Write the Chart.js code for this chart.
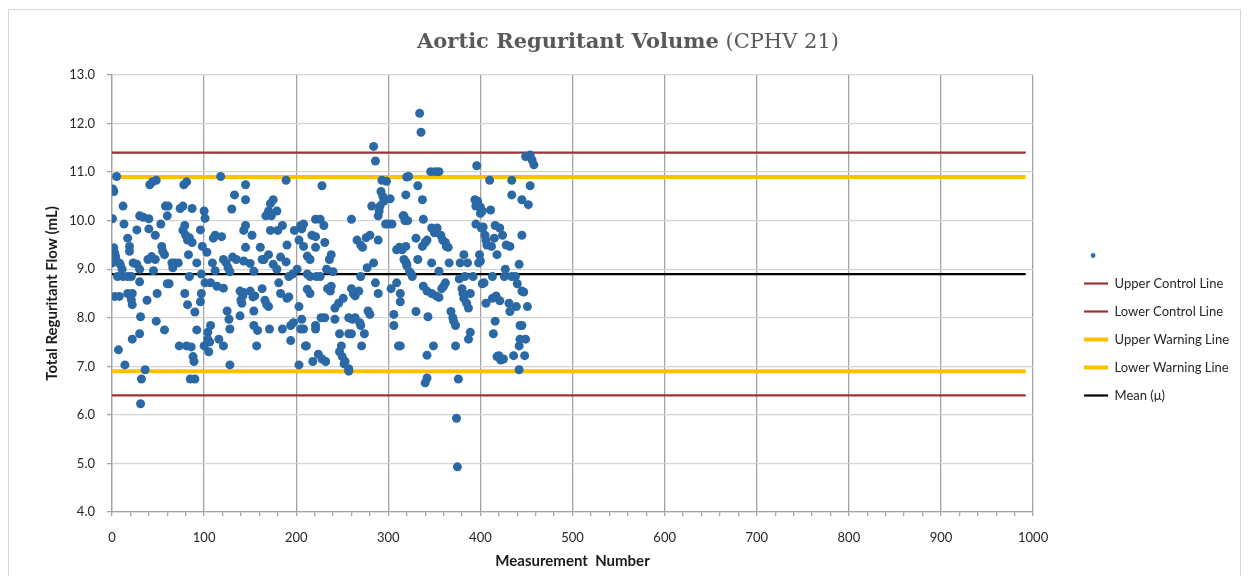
<!DOCTYPE html>
<html>
<head>
<meta charset="utf-8">
<script src="https://cdn.jsdelivr.net/npm/chart.js@4.4.1/dist/chart.umd.min.js"></script>
<style>
  body { margin: 0; background: #fff; }
  #wrap { position: relative; width: 1248px; height: 576px; overflow: hidden; }
  #frame { position: absolute; left: 8px; top: 9px; width: 1231px; height: 600px; border: 1px solid #d6d6d6; }
  #title { position: absolute; left: 0; top: 28px; width: 1256px; text-align: center;
           font-family: "DejaVu Serif", serif; font-size: 21px; line-height: 26px; color: #595959; }
  canvas { position: absolute; left: 0; top: 0; }
</style>
</head>
<body>
<div id="wrap">
  <div id="frame"></div>
  <canvas id="chart" width="1248" height="576"></canvas>
  <div id="title"><b>Aortic Reguritant Volume</b> (CPHV 21)</div>
</div>
<script>
const run1 = [
  [0.5,10.04],[0.3,9.13],[1,10.65],[2,10.6],[2,9.44],[3,9.33],[3,8.44],[4,9.26],[5,10.91],[6,8.85],
  [7,7.34],[8,9.13],[8,8.44],[9,9.1],[11,9.0],[12,10.3],[12,8.85],[13,9.93],[14,7.03],[17,9.64],
  [17,8.85],[17,8.5],[19,9.47],[19,9.37],[20,8.47],[21,8.85],[21,8.37],[22,8.5],[22,8.27],[22,7.56],
  [23,9.13],[27,9.81],[27,9.1],[30,10.1],[30,9.0],[30,8.74],[30,7.67],[31,8.02],[31,6.23],[32,6.74],
  [34,10.07],[36,6.93],[38,8.36],[40,10.04],[40,9.83],[39,9.2],[41,10.74],[43,9.26],[44,10.8],[45,8.97],
  [47,9.7],[47,9.2],[48,10.83],[48,7.93],[49,8.5],[53,9.93],[54,9.47],[55,9.37],[57,9.3],[57,7.75],
  [58,10.3],[60,10.1],[60,8.7],[61,10.3],[62,8.7],[65,9.13],[66,9.03],[68,9.13],[72,9.13],[73,7.42],
  [74,10.25],[77,10.3],[77,9.8],[78,10.74],[79,9.9],[79,8.5],[80,9.7],[81,10.8],[81,7.42],[82,9.6],
  [82,8.27],[83,9.3],[84,9.65],[84,8.85],[85,6.74],[86,7.4],[87,10.25],[87,9.55],[88,7.2],[89,7.1],
  [90,6.74],[90,8.12],[92,9.13],[92,7.75],[96,9.81],[96,8.33],[97,8.9],[97,8.5],[98,9.47],[100,7.42]
];
const run2 = [
  [100,10.2],[101,10.05],[101,8.72],[103,9.35],[104,7.7],[104,7.56],[105,7.3],[106,7.5],[107,8.72],[107,7.84],
  [109,9.13],[110,9.64],[112,9.7],[112,8.97],[114,8.65],[116,7.56],[118,10.91],[119,9.67],[121,9.2],[121,8.61],
  [121,7.42],[124,9.13],[125,8.14],[126,9.03],[127,7.97],[128,8.95],[128,7.77],[128,7.03],[130,10.24],[131,9.25],
  [133,10.53],[135,9.2],[139,8.55],[139,8.04],[140,8.36],[141,8.3],[142,8.45],[143,9.8],[143,9.17],[143,8.52],
  [145,10.74],[145,10.43],[145,9.9],[145,9.45],[150,9.12],[150,8.55],[152,9.7],[153,8.43],[154,8.96],[154,8.14],
  [154,7.84],[155,8.45],[157,7.42],[158,7.74],[161,9.45],[163,9.2],[163,8.6],[165,9.2],[166,8.36],[167,10.1],
  [168,8.27],[170,10.2],[170,9.3],[170,8.23],[171,7.77],[172,9.8],[172,10.35],[173,10.1],[175,10.43],[175,9.1],
  [179,10.2],[179,9.0],[180,9.8],[181,8.72],[183,9.25],[183,8.5],[185,9.9],[185,7.77],[189,10.83],[189,9.15],
  [190,9.5],[190,8.4],[192,8.85],[192,8.43],[194,7.84],[194,7.53],[196,8.9],[197,7.9],[198,9.8],[201,9.0],
  [203,9.6],[203,8.23],[203,7.03],[205,9.9],[205,7.77]
];
const run3 = [
  [206,9.83],[206,7.97],[208,9.93],[208,9.47],[208,7.77],[210,7.42],[211,7.42],[212,9.27],[212,8.9],[212,8.59],
  [215,9.2],[215,8.85],[215,8.5],[217,9.7],[218,7.1],[221,10.03],[221,9.67],[221,9.45],[221,7.84],[221,7.77],
  [222,8.85],[224,7.25],[226,10.03],[226,8.85],[227,8.0],[228,10.72],[228,7.15],[230,9.9],[231,9.55],[231,8.0],
  [232,7.1],[233,9.0],[234,8.6],[236,9.2],[237,8.55],[238,9.3],[238,8.65],[240,8.95],[242,8.2],[242,7.97],
  [246,8.3],[247,7.3],[247,7.67],[249,7.42],[250,7.2],[251,8.4],[252,7.05],[253,7.1],[257,8.0],[257,6.95],
  [257,6.9],[257,7.67],[260,10.03],[260,8.6],[260,7.67],[261,7.97],[262,8.5],[264,8.0],[264,8.45],[266,9.6],
  [268,8.55],[269,7.9],[270,9.5],[270,8.85],[270,7.84],[271,7.42],[272,9.45],[274,7.67],[276,9.65],[277,9.03],
  [278,8.14],[280,9.7],[280,8.07],[282,10.3],[284,11.53],[284,9.13],[286,11.23],[286,8.72],[289,9.6],[289,10.1],
  [289,8.5],[290,10.2],[291,10.3],[292,10.6],[293,10.83],[294,10.5],[295,10.4],[297,9.93],[298,10.81],[300,9.93],
  [302,10.45],[303,8.6],[304,9.93],[306,8.07],[306,7.84],[309,9.4],[309,8.72],[311,7.42],[312,9.45],[313,8.5],
  [313,8.33],[313,7.42],[315,9.4],[317,10.1],[317,9.2],[319,10.53],[320,10.9],[320,9.1]
];
const run4 = [
  [316,10.1],[318,10.0],[319,9.47],[319,9.15],[320,9.07],[321,10.0],[322,10.91],[323,8.95],[325,8.9],[326,8.85],
  [330,9.64],[330,8.13],[332,10.72],[332,9.2],[334,12.21],[335.5,11.82],[337,10.43],[337,9.47],[338,10.03],[338,8.65],
  [340,9.55],[340,6.66],[342,9.6],[342,8.55],[342,7.23],[342,6.76],[343,8.02],[346,11.01],[347,9.85],[347,9.13],
  [347,8.5],[349,7.42],[350,9.75],[351,11.01],[352,8.45],[353,9.85],[355,11.01],[355,8.96],[355,8.42],[357,9.7],
  [358,8.6],[359,9.6],[360,8.65],[362,9.55],[362,8.72],[363,9.47],[365,9.45],[366,9.13],[368,8.13],[370,8.0],
  [371,7.93],[373,7.84],[373,7.42],[374,5.93],[375,4.93],[376,6.74],[377,8.8],[378,9.13],[380,8.6],[381,8.5],
  [382,9.3],[382,8.4],[383,8.85],[385,8.3],[386,9.13],[387,8.2],[387,7.56],[389,7.7],[389,8.5],[392,8.85],
  [394,10.43],[395,10.3],[395,9.93],[396,11.13],[397,10.4],[398,9.13],[399,9.3]
];
const run5 = [
  [400,10.28],[400,10.15],[400,9.17],[401,9.85],[402,10.2],[402,8.7],[403,9.87],[404,8.72],[405,9.7],[406,9.6],
  [406,8.3],[407,9.5],[410,10.83],[411,10.22],[412,9.47],[413,8.85],[413,8.4],[414,7.67],[415,9.64],[416,9.9],
  [416,7.93],[417,8.45],[418,9.3],[418,7.2],[420,7.22],[421,9.85],[421,8.35],[422,7.13],[424,9.7],[425,7.15],
  [426,8.85],[427,9.0],[428,9.5],[431,8.3],[432,9.47],[432,8.13],[434,10.83],[434,10.53],[434,8.85],[436,7.22],
  [438,8.85],[439,8.23],[440,8.7],[442,9.1],[442,7.42],[442,6.93],[443,7.84],[443,7.56],[445,10.43],[445,9.7],
  [445,8.55],[445,7.84],[447,8.53],[448,7.22],[449,11.32],[449,7.56],[451,8.23],[452,10.33],[454,11.35],[454,10.72],
  [456,11.25],[458,11.15]
];

const limitNames = ["Upper Control Line", "Lower Control Line", "Upper Warning Line", "Lower Warning Line", "Mean (\u03bc)"];
const limitValues = [11.4, 6.4, 10.9, 6.9, 8.9];
const lineSpan = [0, 992];
const xTickValues = [0, 100, 200, 300, 400, 500, 600, 700, 800, 900, 1000];
const yTickValues = [4, 5, 6, 7, 8, 9, 10, 11, 12, 13];

const pointBlue = "#2a69a5";
const limitColors = ["#993333", "#993333", "#ffc000", "#ffc000", "#000000"];
const limitWidths = [2.2, 2.2, 4, 4, 2.2];
const gridDark = "#a3a3a3";
const gridLight = "#d3d3d3";
const textFont = "Lato, 'Liberation Sans', sans-serif";

// small dot used as the legend symbol of the point series
const dotMarker = document.createElement("canvas");
dotMarker.width = 20;
dotMarker.height = 8;
const dctx = dotMarker.getContext("2d");
dctx.fillStyle = pointBlue;
dctx.beginPath();
dctx.arc(7, 4, 2.4, 0, Math.PI * 2);
dctx.fill();

const readings = [...run1, ...run2, ...run3, ...run4, ...run5].map(([x, y]) => ({ x, y }));

const datasets = [{
  label: "",
  data: readings,
  backgroundColor: pointBlue,
  borderWidth: 0,
  pointRadius: 4.5,
  order: 0
}];
limitNames.forEach((name, i) => {
  datasets.push({
    label: name,
    data: lineSpan.map((x) => ({ x, y: limitValues[i] })),
    showLine: true,
    borderColor: limitColors[i],
    borderWidth: limitWidths[i],
    pointRadius: 0,
    order: 1
  });
});

new Chart(document.getElementById("chart"), {
  type: "scatter",
  data: { datasets },
  options: {
    responsive: false,
    animation: false,
    devicePixelRatio: 1,
    events: [],
    layout: { padding: { left: 0, top: 75, right: 9, bottom: 0 } },
    plugins: {
      tooltip: { enabled: false },
      legend: {
        position: "right",
        align: "center",
        labels: {
          usePointStyle: true,
          pointStyleWidth: 24,
          padding: 15,
          color: "#262626",
          font: { family: textFont, size: 13 },
          generateLabels: (chart) => chart.data.datasets.map((ds, i) => ({
            text: ds.label,
            datasetIndex: i,
            hidden: false,
            fillStyle: i === 0 ? pointBlue : ds.borderColor,
            strokeStyle: i === 0 ? pointBlue : ds.borderColor,
            lineWidth: i === 0 ? 0 : ds.borderWidth,
            pointStyle: i === 0 ? dotMarker : "line",
            fontColor: "#262626"
          }))
        }
      }
    },
    scales: {
      x: {
        type: "linear",
        min: 0,
        max: 1000,
        afterBuildTicks: (scale) => {
          // labels every 100, small tick marks every 20
          const ticks = [];
          for (let v = 0; v <= 1000; v += 20) ticks.push({ value: v });
          scale.ticks = ticks;
        },
        afterFit: (scale) => { scale.height = 64; },
        ticks: {
          autoSkip: false,
          maxRotation: 0,
          padding: 14,
          color: "#262626",
          font: { family: textFont, size: 13 },
          callback: (v) => (xTickValues.includes(v) ? String(v) : "")
        },
        grid: {
          color: (c) => (c.tick && xTickValues.includes(c.tick.value) ? gridDark : "rgba(0,0,0,0)"),
          lineWidth: 1.3,
          tickColor: gridDark,
          tickLength: 4
        },
        border: { color: gridDark, width: 1.3 },
        title: {
          display: true,
          text: "Measurement  Number",
          color: "#1a1a1a",
          font: { family: textFont, size: 15, weight: "bold" },
          padding: { top: 0, bottom: 6 }
        }
      },
      y: {
        min: 4,
        max: 13,
        afterBuildTicks: (scale) => { scale.ticks = yTickValues.map((v) => ({ value: v })); },
        afterFit: (scale) => { scale.width = 112; },
        ticks: {
          padding: 12,
          color: "#262626",
          font: { family: textFont, size: 13 },
          callback: (v) => v.toFixed(1)
        },
        grid: { color: gridLight, lineWidth: 1.3, tickColor: gridDark, tickLength: 5 },
        border: { color: gridDark, width: 1.3 },
        title: {
          display: true,
          text: "Total Reguritant Flow (mL)",
          color: "#1a1a1a",
          font: { family: textFont, size: 15, weight: "bold" },
          padding: { top: 43, bottom: 0 }
        }
      },
      gap: {
        type: "linear",
        position: "right",
        display: true,
        grid: { display: false, drawTicks: false },
        border: { display: false },
        ticks: { display: false },
        afterFit: (scale) => { scale.width = 36; }
      }
    }
  }
});
</script>
</body>
</html>
